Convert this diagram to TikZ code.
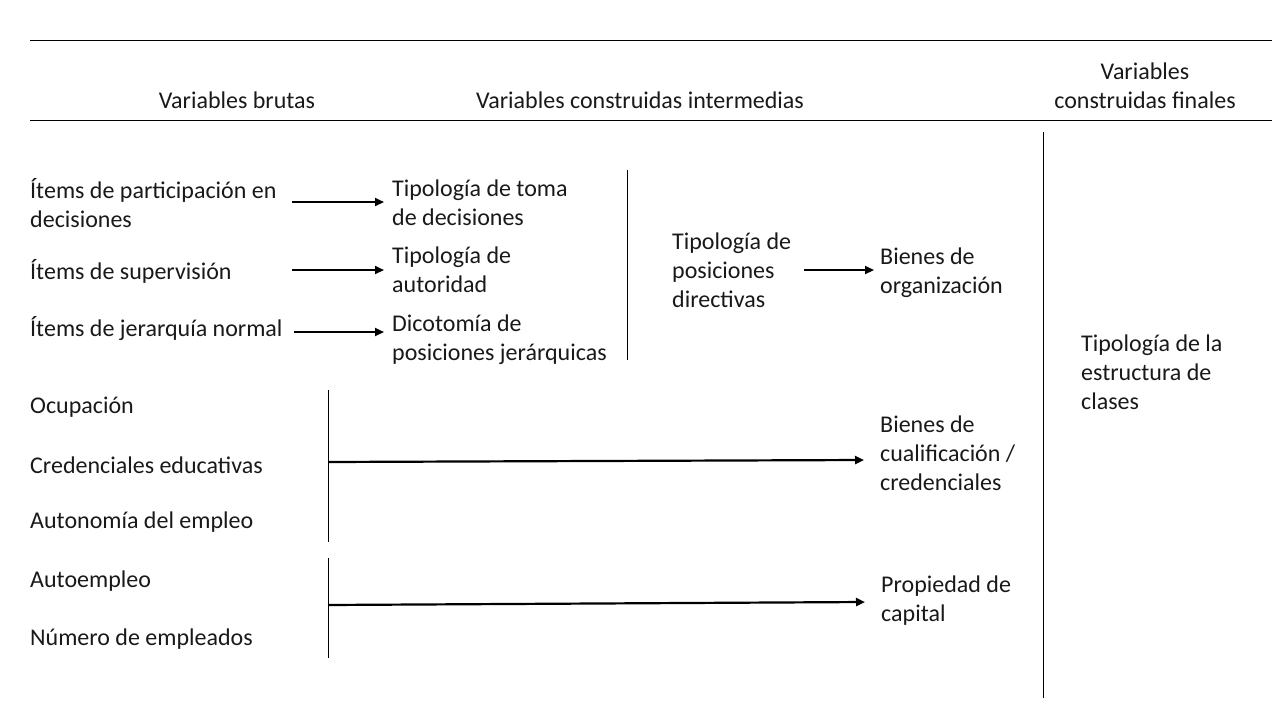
\documentclass[tikz,border=0pt]{standalone}
\usepackage{fontspec}
\setmainfont{Carlito}
\usetikzlibrary{arrows.meta}
\begin{document}
\begin{tikzpicture}[x=1pt,y=-1pt,
  txt/.style={anchor=west,align=left,inner sep=0pt,font=\fontsize{24}{29}\selectfont,text=black!90},
  hdr/.style={align=center,inner sep=0pt,font=\fontsize{24}{29}\selectfont,text=black!90},
  rule/.style={line width=1pt,black},
  arr/.style={line width=2.2pt,-{Triangle[length=9pt,width=8pt]}},
  vline/.style={line width=1pt,black}]
\useasboundingbox (0,0) rectangle (1280,720);
% header rules
\coordinate (r1a) at (30,40); \coordinate (r1b) at (1272,40);
\coordinate (r2a) at (30,120); \coordinate (r2b) at (1272,120);
\draw[rule] (r1a) -- (r1b);
\draw[rule] (r2a) -- (r2b);
% headers
\node[hdr] (h1) at (237,100) {Variables brutas};
\node[hdr] (h2) at (640,100) {Variables construidas intermedias};
\node[hdr] (h3) at (1145,86) {Variables\\construidas finales};
% raw variables
\node[txt] (a1) at (30,203) {Ítems de participación en\\decisiones};
\node[txt] (a2) at (30,271) {Ítems de supervisión};
\node[txt] (a3) at (30,329) {Ítems de jerarquía normal};
\node[txt] (a4) at (30,407) {Ocupación};
\node[txt] (a5) at (30,465) {Credenciales educativas};
\node[txt] (a6) at (30,522) {Autonomía del empleo};
\node[txt] (a7) at (30,581) {Autoempleo};
\node[txt] (a8) at (30,639) {Número de empleados};
% intermediate
\node[txt] (b1) at (392,203) {Tipología de toma\\de decisiones};
\node[txt] (b2) at (392,270) {Tipología de\\autoridad};
\node[txt] (b3) at (392,340) {Dicotomía de\\posiciones jerárquicas};
\node[txt] (c1) at (672,270) {Tipología de\\posiciones\\directivas};
% final-ish
\node[txt] (d1) at (880,273) {Bienes de\\organización};
\node[txt] (d2) at (880,453) {Bienes de\\cualificación /\\credenciales};
\node[txt] (d3) at (881,601) {Propiedad de\\capital};
\node[txt] (e1) at (1081,372) {Tipología de la\\estructura de\\clases};
% vertical lines
\coordinate (v1a) at (627,170); \coordinate (v1b) at (627,360);
\coordinate (v2a) at (328,390); \coordinate (v2b) at (328,542);
\coordinate (v3a) at (328,558); \coordinate (v3b) at (328,658);
\coordinate (v4a) at (1043,132); \coordinate (v4b) at (1043,698);
\draw[vline] (v1a) -- (v1b);
\draw[vline] (v2a) -- (v2b);
\draw[vline] (v3a) -- (v3b);
\draw[vline] (v4a) -- (v4b);
% arrows
\coordinate (s1) at (292,202);
\coordinate (s2) at (292,270);
\coordinate (s3) at (294,332);
\coordinate (s4) at (804,270);
\coordinate (s5) at (328,462);
\coordinate (s6) at (328,605);
\draw[arr] (s1) -- ([xshift=-8pt]b1.west |- s1);
\draw[arr] (s2) -- ([xshift=-8pt]b2.west |- s2);
\draw[arr] (s3) -- ([xshift=-8pt]b3.west |- s3);
\draw[arr] (s4) -- ([xshift=-6pt]d1.west |- s4);
\draw[arr] (s5) -- ([xshift=-16pt,yshift=2pt]d2.west |- s5);
\draw[arr] (s6) -- ([xshift=-16pt,yshift=3pt]d3.west |- s6);
\end{tikzpicture}
\end{document}
